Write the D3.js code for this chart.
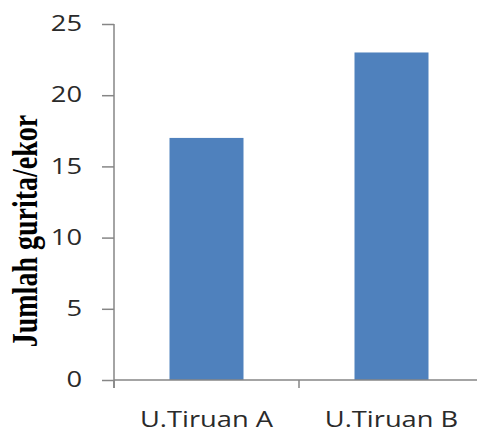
<!DOCTYPE html>
<html>
<head>
<meta charset="utf-8">
<script src="https://cdn.jsdelivr.net/npm/d3@7"></script>
<style>
  body { margin: 0; background: #fff; }
  .tick text { font-family: "Open Sans", sans-serif; font-size: 21px; fill: #2a2a2a; }
  .domain, .tick line { stroke: #868686; stroke-width: 1.5; }
</style>
</head>
<body>
<div id="chart"></div>
<script>
var categories = ['U.Tiruan A', 'U.Tiruan B'];
var values = [17, 23];
var yTicks = [0, 5, 10, 15, 20, 25];

var width = 477, height = 429;
var margin = { top: 24, right: -7, bottom: 49, left: 114 };
// the reference picture is stretched sideways, so texts are too
var stretch = 1.3;

var svg = d3.select('#chart')
    .append('svg')
    .attr('width', width)
    .attr('height', height);

var g = svg.append('g')
    .attr('transform', 'translate(' + margin.left + ',' + margin.top + ')');

var innerW = width - margin.left - margin.right;
var innerH = height - margin.top - margin.bottom;

var x = d3.scaleBand()
    .domain(categories)
    .range([0, innerW])
    .paddingInner(0.6)
    .paddingOuter(0.3);

var y = d3.scaleLinear()
    .domain([0, 25])
    .range([innerH, 0]);

// bars
g.selectAll('.bar')
    .data(values)
    .enter().append('rect')
    .attr('class', 'bar')
    .attr('x', function(d, i) { return x(categories[i]); })
    .attr('y', function(d) { return y(d); })
    .attr('width', x.bandwidth())
    .attr('height', function(d) { return innerH - y(d); })
    .style('fill', '#4f81bd');

// y axis
var yAxis = g.append('g')
    .attr('class', 'y-axis')
    .call(d3.axisLeft(y).tickValues(yTicks).tickSize(12).tickSizeOuter(0).tickPadding(20));

yAxis.selectAll('.tick text')
    .attr('x', 0)
    .attr('transform', 'translate(-32,0) scale(' + stretch + ',1)');

yAxis.select('.domain')
    .attr('d', 'M0,0V' + (innerH + 8));

// x axis, ticks at band boundaries
var bounds = [0, innerW / 2];
var xAxis = g.append('g')
    .attr('class', 'x-axis')
    .attr('transform', 'translate(0,' + innerH + ')');

xAxis.append('path')
    .attr('class', 'domain')
    .attr('d', 'M0,0H' + innerW);

xAxis.selectAll('.xtick')
    .data(bounds)
    .enter().append('line')
    .attr('class', 'xtick')
    .attr('x1', function(d) { return d; })
    .attr('x2', function(d) { return d; })
    .attr('y1', 0)
    .attr('y2', 8)
    .style('stroke', '#868686')
    .style('stroke-width', 1.5);

xAxis.selectAll('.xlabel')
    .data(categories)
    .enter().append('text')
    .attr('class', 'xlabel')
    .attr('transform', function(d) {
        return 'translate(' + (x(d) + x.bandwidth() / 2) + ',47) scale(' + stretch + ',1)';
    })
    .attr('text-anchor', 'middle')
    .style('font-family', '"Open Sans", sans-serif')
    .style('font-size', '21px')
    .style('fill', '#2a2a2a')
    .text(function(d) { return d; });

// y title
svg.append('text')
    .attr('transform', 'translate(37,231) scale(' + stretch + ',1) rotate(-90)')
    .attr('text-anchor', 'middle')
    .style('font-family', '"Liberation Serif", "Times New Roman", serif')
    .style('font-weight', 'bold')
    .style('font-size', '28px')
    .style('fill', '#000')
    .text('Jumlah gurita/ekor');
</script>
</body>
</html>
